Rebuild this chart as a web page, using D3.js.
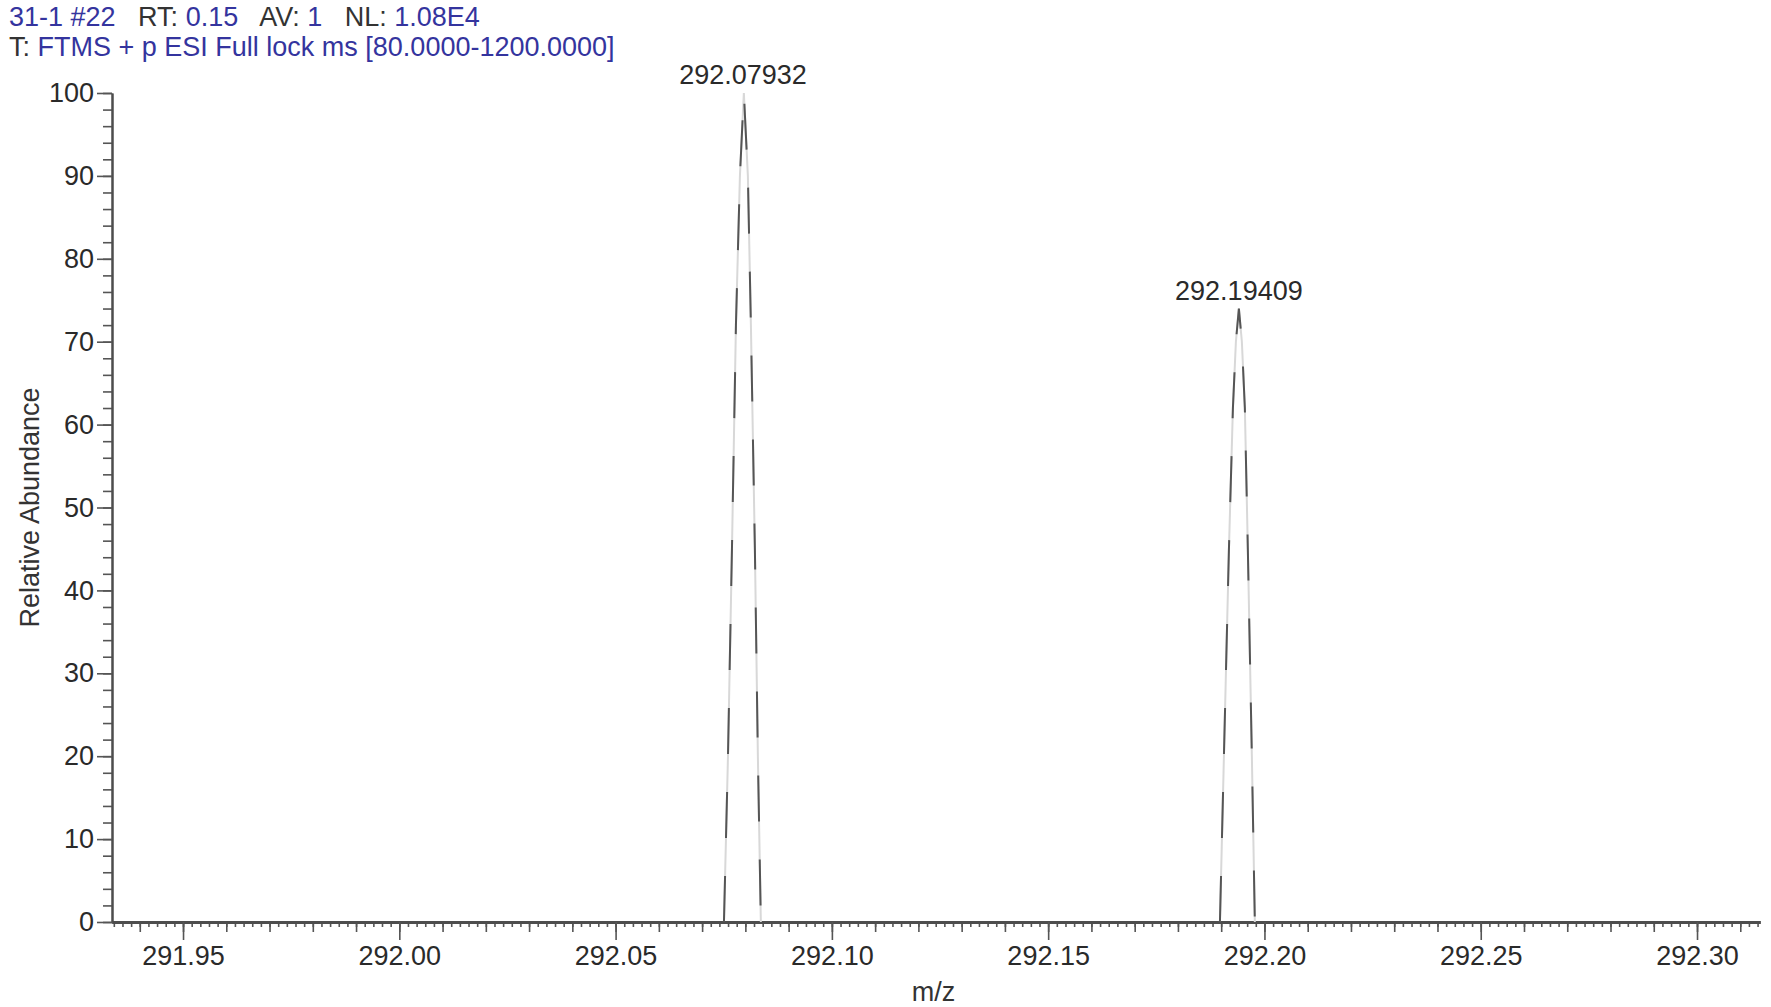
<!DOCTYPE html>
<html>
<head>
<meta charset="utf-8">
<script src="https://d3js.org/d3.v7.min.js"></script>
<style>
	body { margin: 0; background: #fff; }
	svg text { font-family: "Liberation Sans", Arial, sans-serif; }
</style>
</head>
<body>
<script>
	// header lines of the scan
	var headerParts = [
		{t: "31-1 #22", c: "blue"}, {t: "   RT: ", c: "dark"}, {t: "0.15", c: "blue"},
		{t: "   AV: ", c: "dark"}, {t: "1", c: "blue"}, {t: "   NL: ", c: "dark"}, {t: "1.08E4", c: "blue"}
	];
	var scanParts = [{t: "T: ", c: "dark"}, {t: "FTMS + p ESI Full lock ms [80.0000-1200.0000]", c: "blue"}];

	// peak profiles (m/z, relative abundance)
	var peak1Mz  = [292.07505, 292.07598, 292.07690, 292.07782, 292.07874, 292.07965, 292.08058, 292.08128, 292.08220, 292.08289, 292.08358];
	var peak1Ab  = [0, 20, 45, 72, 90, 100, 90, 72, 45, 20, 0];
	var peak2Mz  = [292.18971, 292.19063, 292.19179, 292.19271, 292.19340, 292.19409, 292.19478, 292.19547, 292.19616, 292.19709, 292.19778];
	var peak2Ab  = [0, 20, 45, 62, 70, 74, 70, 62, 45, 20, 0];

	// centroid labels
	var peakLabels = ["292.07932", "292.19409"];
	var peakLabelMz = [292.07945, 292.19409];
	var peakLabelAb = [100, 74];

	var xTicks = [291.95, 292.00, 292.05, 292.10, 292.15, 292.20, 292.25, 292.30];
	var yTicks = [0, 10, 20, 30, 40, 50, 60, 70, 80, 90, 100];

	var w = 1771, h = 1007;
	var plotL = 112, plotR = 1760, plotT = 93, plotB = 922;
	var fs = 27;

	var svg = d3.select("body").append("svg").attr("width", w).attr("height", h);

	var xScale = d3.scaleLinear().domain([291.93358, 292.31456]).range([plotL, plotR]);
	var yScale = d3.scaleLinear().domain([0, 100]).range([plotB, plotT]);

	var blue = "#34349e", dark = "#333";

	// header text
	var drawHeader = function(parts, y){
		var t = svg.append("text").attr("x", 9).attr("y", y)
			.attr("font-size", fs).style("white-space", "pre");
		t.selectAll("tspan").data(parts).enter().append("tspan")
			.attr("fill", function(d){ return d.c == "blue" ? blue : dark; })
			.text(function(d){ return d.t; });
	};
	drawHeader(headerParts, 26);
	drawHeader(scanParts, 56);

	// minor ticks first, then the labelled ones
	var xSmall = d3.range(145967, 146158).map(function(k){ return k / 500; });
	var xMid = d3.range(29194, 29232).map(function(k){ return k / 100; });
	var yMinor = d3.range(0, 51).map(function(k){ return k * 2; });

	var styleAxis = function(g, width){
		g.selectAll("line").attr("stroke", "#555").attr("stroke-width", 1.6);
		g.select(".domain").attr("stroke", "#4d4d4d").attr("stroke-width", width);
		g.selectAll("text").attr("fill", "#2a2a2a").attr("font-size", fs)
			.style("font-family", "'Liberation Sans', Arial, sans-serif");
	};

	svg.append("g").attr("transform", "translate(0," + plotB + ")")
		.call(d3.axisBottom(xScale).tickValues(xSmall).tickSize(5).tickSizeOuter(0).tickFormat(""))
		.call(styleAxis, 3);
	svg.append("g").attr("transform", "translate(0," + plotB + ")")
		.call(d3.axisBottom(xScale).tickValues(xMid).tickSize(10).tickSizeOuter(0).tickFormat(""))
		.call(styleAxis, 3);
	svg.append("g").attr("transform", "translate(0," + plotB + ")")
		.call(d3.axisBottom(xScale).tickValues(xTicks).tickSize(18).tickSizeOuter(0).tickPadding(6)
			.tickFormat(d3.format(".2f")))
		.call(styleAxis, 3);

	svg.append("g").attr("transform", "translate(" + plotL + ",0)")
		.call(d3.axisLeft(yScale).tickValues(yMinor).tickSize(9).tickSizeOuter(0).tickFormat(""))
		.call(styleAxis, 2);
	svg.append("g").attr("transform", "translate(" + plotL + ",0)")
		.call(d3.axisLeft(yScale).tickValues(yTicks).tickSize(15).tickSizeOuter(0).tickPadding(3))
		.call(styleAxis, 2);

	// axis titles
	svg.append("text").attr("x", xScale(292.1235)).attr("y", 1001)
		.attr("text-anchor", "middle").attr("font-size", fs).attr("fill", dark).text("m/z");
	svg.append("text").attr("transform", "translate(39," + yScale(50) + ") rotate(-90)")
		.attr("text-anchor", "middle").attr("font-size", fs).attr("fill", dark).text("Relative Abundance");

	// peak profiles: faint line under a broken dark one, like the scanned plot
	var line = d3.line().x(function(d){ return xScale(d[0]); }).y(function(d){ return yScale(d[1]); });
	var profiles = [d3.zip(peak1Mz, peak1Ab), d3.zip(peak2Mz, peak2Ab)];

	svg.selectAll("path.faint").data(profiles).enter().append("path")
		.attr("class", "faint").attr("d", line)
		.attr("fill", "none").attr("stroke", "#d8d8d8").attr("stroke-width", 2);
	svg.selectAll("path.peak").data(profiles).enter().append("path")
		.attr("class", "peak").attr("d", line)
		.attr("fill", "none").attr("stroke", "#555").attr("stroke-width", 2)
		.attr("stroke-dasharray", "46,38");

	svg.selectAll("text.plabel").data(peakLabels).enter().append("text")
		.attr("class", "plabel")
		.attr("x", function(d, i){ return xScale(peakLabelMz[i]); })
		.attr("y", function(d, i){ return yScale(peakLabelAb[i]) - 9; })
		.attr("text-anchor", "middle").attr("font-size", fs).attr("fill", "#2a2a2a")
		.text(function(d){ return d; });
</script>
</body>
</html>
